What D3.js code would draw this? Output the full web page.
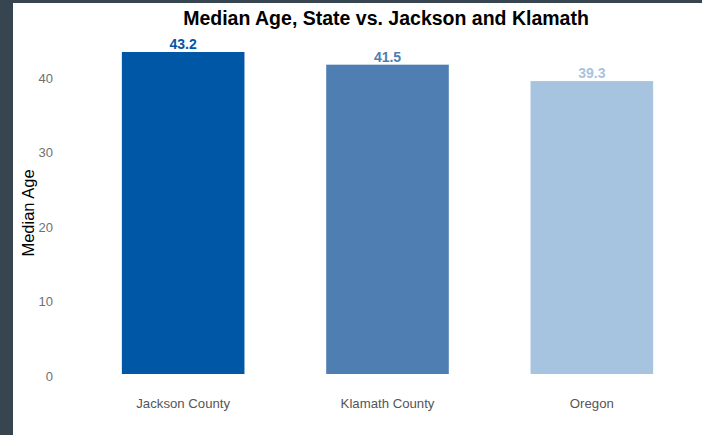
<!DOCTYPE html>
<html>
<head>
<meta charset="utf-8">
<script src="https://cdn.jsdelivr.net/npm/d3@7"></script>
<style>
  html, body { margin: 0; padding: 0; background: #36454f; }
  svg { display: block; }
</style>
</head>
<body>
<svg id="chart" width="702" height="435"></svg>
<script>
// Median age by area
const categories = ["Jackson County", "Klamath County", "Oregon"];
const medianAges = [43.2, 41.5, 39.3];
const barColors = ["#0057a5", "#4e7eb2", "#a6c4e0"];
const yTicks = [0, 10, 20, 30, 40];

const svg = d3.select("#chart");

// white panel inside the dark frame
svg.append("rect")
  .attr("x", 13).attr("y", 3)
  .attr("width", 702 - 13).attr("height", 435 - 3)
  .attr("fill", "#ffffff");

const x = d3.scaleBand()
  .domain(categories)
  .range([81, 694])
  .paddingInner(0.4)
  .paddingOuter(0.2);

const y = d3.scaleLinear()
  .domain([0, 45])
  .range([374, 38.6]);

// bars
svg.append("g").selectAll("rect")
  .data(categories)
  .join("rect")
  .attr("x", d => x(d))
  .attr("y", (d, i) => y(medianAges[i]))
  .attr("width", x.bandwidth())
  .attr("height", (d, i) => y(0) - y(medianAges[i]))
  .attr("fill", (d, i) => barColors[i]);

// value labels
svg.append("g").selectAll("text")
  .data(categories)
  .join("text")
  .attr("x", d => x(d) + x.bandwidth() / 2)
  .attr("y", (d, i) => y(medianAges[i]) - 3)
  .attr("text-anchor", "middle")
  .attr("font-family", "Liberation Sans, Arial, sans-serif")
  .attr("font-weight", "bold")
  .attr("font-size", 14)
  .attr("fill", (d, i) => barColors[i])
  .text((d, i) => medianAges[i].toFixed(1));

// y axis (labels only)
const yAxis = svg.append("g")
  .attr("transform", "translate(56,2)")
  .call(d3.axisLeft(y).tickValues(yTicks).tickSize(0).tickPadding(3));
yAxis.select(".domain").remove();
yAxis.selectAll("text")
  .attr("font-family", "Liberation Sans, Arial, sans-serif")
  .attr("font-size", 13)
  .attr("fill", "#707070");

// x axis (labels only)
const xAxis = svg.append("g")
  .attr("transform", "translate(0,399)")
  .call(d3.axisBottom(x).tickSize(0).tickPadding(0));
xAxis.select(".domain").remove();
xAxis.selectAll("text")
  .attr("font-family", "Liberation Sans, Arial, sans-serif")
  .attr("font-size", 13.2)
  .attr("fill", "#555555");

// y axis title
svg.append("text")
  .attr("transform", "translate(34,213) rotate(-90)")
  .attr("text-anchor", "middle")
  .attr("font-family", "Liberation Sans, Arial, sans-serif")
  .attr("font-size", 16.5)
  .attr("fill", "#000000")
  .text("Median Age");

// chart title
svg.append("text")
  .attr("x", 386)
  .attr("y", 25)
  .attr("text-anchor", "middle")
  .attr("font-family", "Liberation Sans, Arial, sans-serif")
  .attr("font-weight", "bold")
  .attr("font-size", 19.5)
  .attr("fill", "#000000")
  .text("Median Age, State vs. Jackson and Klamath");
</script>
</body>
</html>
